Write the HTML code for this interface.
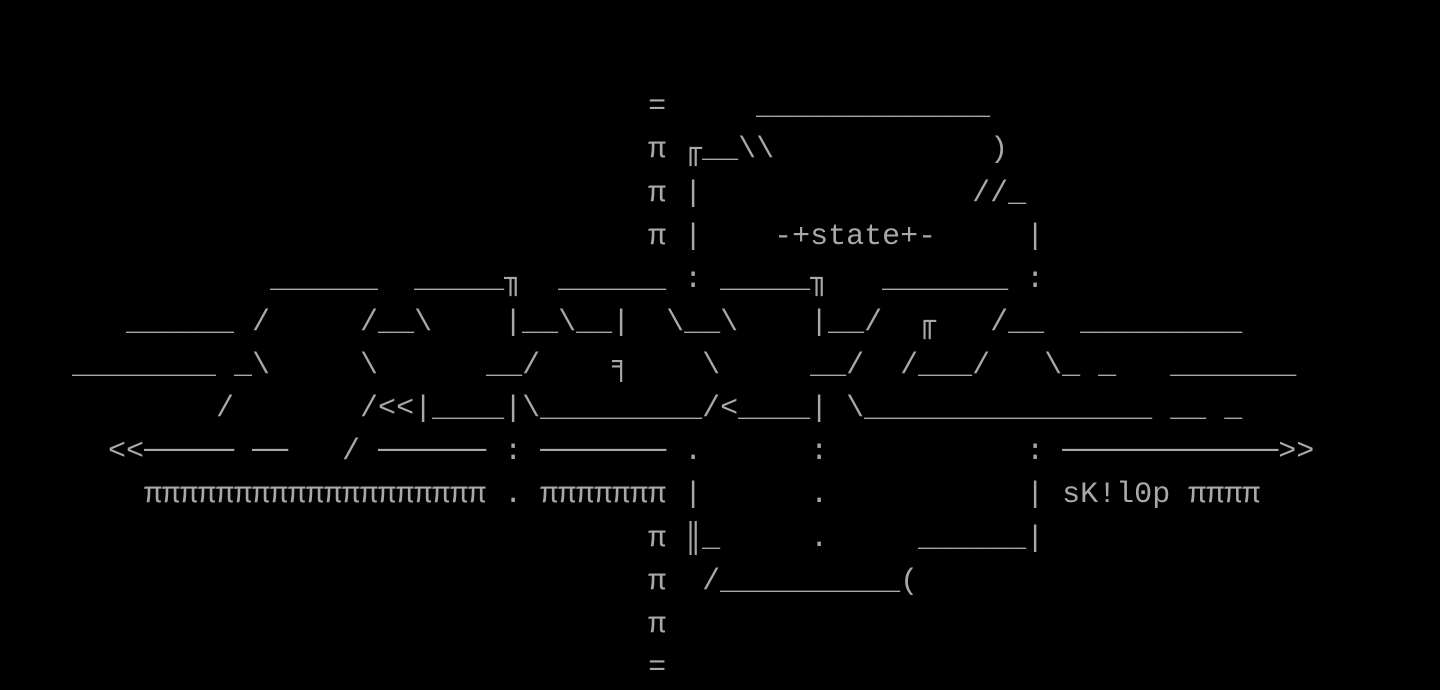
<!DOCTYPE html>
<html><head><meta charset="utf-8"><style>
html,body{margin:0;padding:0;background:#000;width:1440px;height:690px;overflow:hidden}
pre{margin:0;position:absolute;left:0;top:0;font-family:"Liberation Mono","DejaVu Sans Mono",monospace;font-size:30px;line-height:43.125px;color:#a8a8a8;white-space:pre}
</style></head><body><pre>


                                    =     _____________
                                    π ╓__\\            )
                                    π |               //_
                                    π |    -+state+-     |
               ______  _____╖  ______ : _____╖   _______ :
       ______ /     /__\    |__\__|  \__\    |__/  ╓   /__  _________
    ________ _\     \      __/    ╕    \     __/  /___/   \_ _   _______
            /       /&lt;&lt;|____|\_________/&lt;____| \________________ __ _
      &lt;&lt;───── ──   / ────── : ─────── .      :           : ────────────&gt;&gt;
        πππππππππππππππππππ . πππππππ |      .           | sK!l0p ππππ
                                    π ║_     .     ______|
                                    π  /__________(
                                    π
                                    =
</pre></body></html>
